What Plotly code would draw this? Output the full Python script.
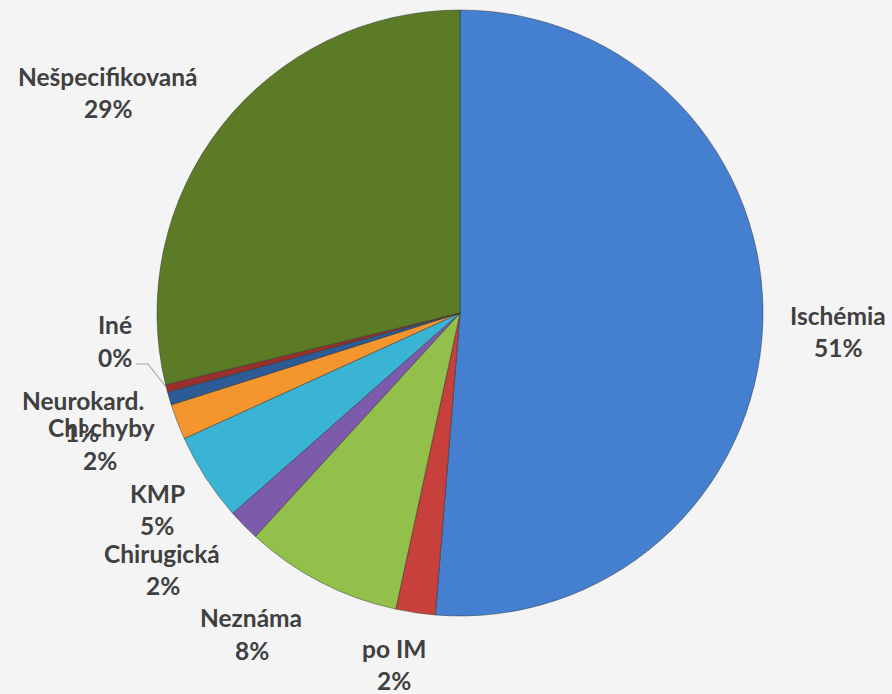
import plotly.graph_objects as go

categories = ["Ischémia", "po IM", "Neznáma", "Chirugická", "KMP",
              "Chl.chyby", "Neurokard.", "Iné", "Nešpecifikovaná"]
values = [51.3, 2.1, 8.4, 1.7, 4.7, 1.9, 0.7, 0.4, 28.8]
colors = ["#4580d0", "#c8403b", "#93c04b", "#7e5aad", "#3ab4d4",
          "#f4952e", "#2c5b95", "#9a302c", "#5c7b27"]

W, H = 892, 694
# label anchor positions (pixels): name line center, percent line center
label_pos = {
    "Ischémia": ((838, 315), (838, 347)),
    "po IM": ((394, 648), (394, 680)),
    "Neznáma": ((251, 617), (252, 650)),
    "Chirugická": ((162, 553), (163, 585)),
    "KMP": ((157, 493), (157, 525)),
    "Chl.chyby": ((101, 427), (100, 460)),
    "Neurokard.": ((83, 400), (82, 433)),
    "Iné": ((115, 324), (115, 357)),
    "Nešpecifikovaná": ((108, 76), (108, 108)),
}

total = sum(values)
fig = go.Figure(go.Pie(
    labels=categories,
    values=values,
    sort=False,
    direction="clockwise",
    rotation=0,
    textinfo="none",
    hoverinfo="label+percent",
    marker=dict(colors=colors, line=dict(color="rgba(40,40,40,0.45)", width=1)),
    domain=dict(x=[157 / W, 763 / W], y=[1 - 616 / H, 1 - 10 / H]),
    showlegend=False,
))

font = dict(family="Lato", size=24.5, color="#404040", weight="bold")
annotations = []
for cat, val in zip(categories, values):
    (nx, ny), (px, py) = label_pos[cat]
    pct = f"{round(val / total * 100):.0f}%"
    annotations.append(dict(x=nx / W, y=1 - ny / H, xref="paper", yref="paper",
                            text=cat, showarrow=False, font=font,
                            xanchor="center", yanchor="middle"))
    annotations.append(dict(x=px / W, y=1 - py / H, xref="paper", yref="paper",
                            text=pct, showarrow=False, font=font,
                            xanchor="center", yanchor="middle"))

# leader line for "Iné"
pts = [(136, 364), (148, 364), (166, 387)]
path = "M " + " L ".join(f"{x / W},{1 - y / H}" for x, y in pts)
fig.update_layout(
    width=W, height=H,
    margin=dict(l=0, r=0, t=0, b=0),
    paper_bgcolor="#f4f4f4",
    plot_bgcolor="#f4f4f4",
    annotations=annotations,
    shapes=[dict(type="path", xref="paper", yref="paper", path=path,
                 line=dict(color="#a6a6a6", width=1.2))],
)
fig.write_html("out.html",
               config={"displayModeBar": False},
               post_script="document.body.style.margin='0';"
                           "document.body.style.overflow='hidden';")
